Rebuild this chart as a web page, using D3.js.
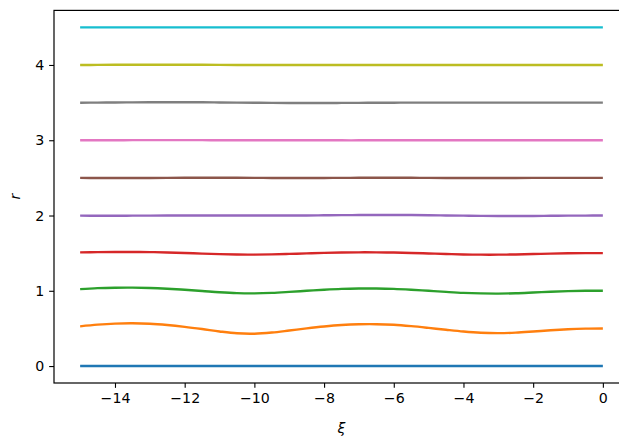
<!DOCTYPE html>
<html>
<head>
<meta charset="utf-8">
<script src="https://cdn.jsdelivr.net/npm/d3@7"></script>
<style>
  html, body { margin: 0; padding: 0; background: #fff; }
  svg { display: block; }
  text { font-family: "DejaVu Sans", sans-serif; }
</style>
</head>
<body>
<svg id="chart" width="619" height="439"></svg>
<script>
// Axial coordinate ξ (sample points shared by every curve)
const xi = [-15, -14.5, -14, -13.5, -13, -12.5, -12, -11.5, -11, -10.5, -10,
            -9.5, -9, -8.5, -8, -7.5, -7, -6.5, -6, -5.5, -5,
            -4.5, -4, -3.5, -3, -2.5, -2, -1.5, -1, -0.5, 0];

// Radial position r(ξ) of each tracked surface
const r0_0 = [0, 0, 0, 0, 0, 0, 0, 0, 0, 0, 0,
              0, 0, 0, 0, 0, 0, 0, 0, 0, 0,
              0, 0, 0, 0, 0, 0, 0, 0, 0, 0];
const r0_5 = [0.528, 0.550, 0.564, 0.568, 0.562, 0.545, 0.521, 0.492, 0.460, 0.435, 0.430,
              0.445, 0.472, 0.501, 0.526, 0.545, 0.555, 0.556, 0.548, 0.530, 0.507,
              0.482, 0.459, 0.443, 0.438, 0.444, 0.459, 0.476, 0.489, 0.497, 0.500];
const r1_0 = [1.022, 1.035, 1.041, 1.042, 1.038, 1.028, 1.014, 0.998, 0.981, 0.969, 0.966,
              0.972, 0.985, 1.000, 1.014, 1.025, 1.030, 1.030, 1.025, 1.014, 1.000,
              0.985, 0.972, 0.965, 0.963, 0.967, 0.977, 0.988, 0.996, 1.000, 1.000];
const r1_5 = [1.510, 1.514, 1.516, 1.516, 1.514, 1.509, 1.502, 1.494, 1.487, 1.482, 1.481,
              1.484, 1.490, 1.497, 1.504, 1.509, 1.511, 1.511, 1.508, 1.503, 1.496,
              1.489, 1.483, 1.480, 1.480, 1.483, 1.488, 1.494, 1.498, 1.500, 1.500];
const r2_0 = [1.998, 1.997, 1.997, 1.998, 1.999, 2.000, 2.001, 2.001, 2.001, 2.000, 2.000,
              2.000, 2.000, 2.001, 2.003, 2.005, 2.006, 2.007, 2.007, 2.006, 2.004,
              2.001, 1.998, 1.995, 1.993, 1.993, 1.994, 1.996, 1.998, 1.999, 2.000];
const r2_5 = [2.500, 2.499, 2.498, 2.498, 2.499, 2.500, 2.501, 2.502, 2.502, 2.501, 2.500,
              2.499, 2.498, 2.498, 2.499, 2.500, 2.501, 2.502, 2.502, 2.501, 2.500,
              2.499, 2.498, 2.498, 2.498, 2.499, 2.500, 2.500, 2.500, 2.500, 2.500];
const r3_0 = [3.000, 3.000, 3.000, 3.001, 3.001, 3.001, 3.001, 3.001, 3.000, 3.000, 3.000,
              3.000, 2.999, 2.999, 2.999, 2.999, 2.999, 3.000, 3.000, 3.000, 3.000,
              3.000, 3.000, 3.000, 3.000, 3.000, 3.000, 3.000, 3.000, 3.000, 3.000];
const r3_5 = [3.499, 3.500, 3.502, 3.503, 3.504, 3.505, 3.505, 3.504, 3.502, 3.500, 3.498,
              3.496, 3.495, 3.495, 3.495, 3.496, 3.497, 3.498, 3.499, 3.500, 3.500,
              3.500, 3.500, 3.500, 3.500, 3.500, 3.500, 3.500, 3.500, 3.500, 3.500];
const r4_0 = [4.000, 4.001, 4.002, 4.003, 4.003, 4.003, 4.003, 4.002, 4.001, 4.000, 3.999,
              3.999, 3.999, 3.999, 3.999, 4.000, 4.000, 4.000, 4.000, 4.000, 4.000,
              4.000, 4.000, 4.000, 4.000, 4.000, 4.000, 4.000, 4.000, 4.000, 4.000];
const r4_5 = [4.5, 4.5, 4.5, 4.5, 4.5, 4.5, 4.5, 4.5, 4.5, 4.5, 4.5,
              4.5, 4.5, 4.5, 4.5, 4.5, 4.5, 4.5, 4.5, 4.5, 4.5,
              4.5, 4.5, 4.5, 4.5, 4.5, 4.5, 4.5, 4.5, 4.5, 4.5];

const series = [r0_0, r0_5, r1_0, r1_5, r2_0, r2_5, r3_0, r3_5, r4_0, r4_5];

// Tick values
const xTicks = [-14, -12, -10, -8, -6, -4, -2, 0];
const yTicks = [0, 1, 2, 3, 4];

const colors = ["#1f77b4", "#ff7f0e", "#2ca02c", "#d62728", "#9467bd",
                "#8c564b", "#e377c2", "#7f7f7f", "#bcbd22", "#17becf"];

const svg = d3.select("#chart");
const plotLeft = 54, plotRight = 629, plotTop = 10.4, plotBottom = 383;

const x = d3.scaleLinear().domain([-15.75, 0.75]).range([plotLeft, plotRight]);
const y = d3.scaleLinear().domain([-0.225, 4.725]).range([plotBottom, plotTop]);

const fmt = d => String(d).replace("-", "\u2212");
const tickLen = 4.86, tickPad = 4.86;

// curves
const line = d3.line()
  .x((d, i) => x(xi[i]))
  .y(d => y(d))
  .curve(d3.curveCatmullRom.alpha(0.5));

svg.append("g")
  .selectAll("path")
  .data(series)
  .join("path")
  .attr("d", line)
  .attr("fill", "none")
  .attr("stroke", (d, i) => colors[i])
  .attr("stroke-width", 2.4)
  .attr("stroke-linecap", "butt");

// x axis
const gx = svg.append("g")
  .attr("transform", `translate(0,${plotBottom})`)
  .call(d3.axisBottom(x).tickValues(xTicks).tickFormat(fmt)
        .tickSize(tickLen).tickPadding(tickPad));
// y axis
const gy = svg.append("g")
  .attr("transform", `translate(${plotLeft},0)`)
  .call(d3.axisLeft(y).tickValues(yTicks).tickFormat(fmt)
        .tickSize(tickLen).tickPadding(tickPad));

[gx, gy].forEach(g => {
  g.select(".domain").remove();
  g.selectAll(".tick line").attr("stroke", "#000").attr("stroke-width", 1.1);
  g.selectAll(".tick text").attr("fill", "#000").style("font-size", "14.2px")
    .style("font-family", "'DejaVu Sans', sans-serif");
});

// frame
svg.append("rect")
  .attr("x", plotLeft).attr("y", plotTop)
  .attr("width", plotRight - plotLeft).attr("height", plotBottom - plotTop)
  .attr("fill", "none").attr("stroke", "#000").attr("stroke-width", 1.2);

// axis labels
svg.append("text")
  .attr("x", (plotLeft + plotRight) / 2).attr("y", 433)
  .attr("text-anchor", "middle")
  .style("font-size", "14.2px").style("font-style", "italic")
  .text("ξ");

svg.append("text")
  .attr("transform", `translate(20,${(plotTop + plotBottom) / 2}) rotate(-90)`)
  .attr("text-anchor", "middle")
  .style("font-size", "14.2px").style("font-style", "italic")
  .text("r");
</script>
</body>
</html>
